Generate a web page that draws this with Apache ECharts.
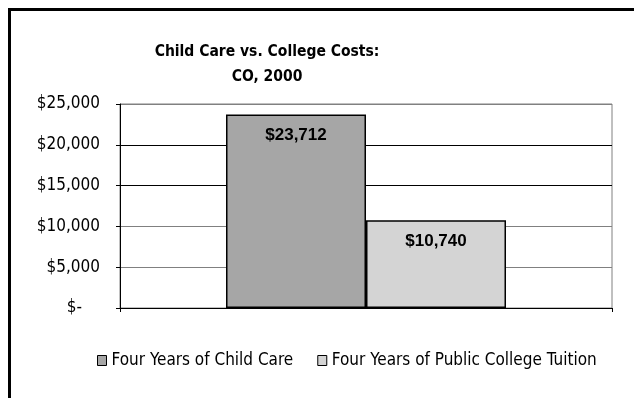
<!DOCTYPE html>
<html>
<head>
<meta charset="utf-8">
<script src="https://cdn.jsdelivr.net/npm/echarts@6/dist/echarts.min.js"></script>
<style>
  html, body { margin: 0; padding: 0; background: #fff; }
  #chart { width: 634px; height: 398px; }
</style>
</head>
<body>
<div id="chart"></div>
<script>
// Costs in Colorado, 2000 (dollars)
const categories = ['CO'];
const seriesNames = ['Four Years of Child Care', 'Four Years of Public College Tuition'];
const childCare = [23712];
const collegeTuition = [10740];
const yTicks = [0, 5000, 10000, 15000, 20000, 25000];

const barColors = ['#A6A6A6', '#D4D4D4'];
const FONT = '"DejaVu Sans Condensed", "DejaVu Sans", sans-serif';

function money(v) {
  return '$' + v.toLocaleString('en-US');
}

const chart = echarts.init(document.getElementById('chart'));

chart.setOption({
  animation: false,
  backgroundColor: '#fff',
  title: {
    text: 'Child Care vs. College Costs:\nCO, 2000',
    left: 262,
    top: 34,
    textAlign: 'center',
    textStyle: {
      fontFamily: FONT,
      fontWeight: 'bold',
      fontSize: 15.5,
      lineHeight: 25,
      color: '#000'
    }
  },
  legend: {
    left: 92,
    top: 347,
    itemWidth: 9,
    itemHeight: 10,
    itemGap: 24,
    icon: 'rect',
    itemStyle: { borderColor: '#000', borderWidth: 1 },
    textStyle: { fontFamily: FONT, fontSize: 17, color: '#000' },
    data: seriesNames
  },
  grid: {
    left: 120,
    top: 104,
    width: 492,
    height: 204,
    show: true,
    borderColor: '#808080',
    borderWidth: 1
  },
  xAxis: {
    type: 'category',
    data: categories,
    axisLine: { lineStyle: { color: '#000', width: 1 } },
    axisTick: { show: true, length: 4, lineStyle: { color: '#000' } },
    axisLabel: { show: false },
    splitLine: { show: false }
  },
  yAxis: {
    type: 'value',
    min: yTicks[0],
    max: yTicks[yTicks.length - 1],
    interval: yTicks[1] - yTicks[0],
    axisLine: { show: true, lineStyle: { color: '#000', width: 1 } },
    axisTick: { show: true, length: 4, lineStyle: { color: '#000' } },
    axisLabel: {
      margin: 20,
      fontFamily: FONT,
      fontSize: 17,
      color: '#000',
      formatter: function (v) {
        return v === 0 ? '{z|$-}' : money(v);
      },
      rich: {
        z: { fontFamily: FONT, fontSize: 17, color: '#000', padding: [0, 18, 0, 0] }
      }
    },
    splitLine: {
      show: true,
      lineStyle: {
        color: ['#808080', '#808080', '#808080', '#000', '#000', '#808080'],
        width: 1
      }
    }
  },
  series: [
    {
      name: seriesNames[0],
      type: 'bar',
      data: childCare,
      barWidth: 140,
      barGap: '0%',
      itemStyle: { color: barColors[0], borderColor: '#000', borderWidth: 1.5 },
      label: {
        show: true,
        position: 'insideTop',
        distance: 12,
        fontFamily: 'Liberation Sans',
        fontWeight: 'bold',
        fontSize: 17,
        color: '#000',
        formatter: function (p) { return money(p.value); }
      }
    },
    {
      name: seriesNames[1],
      type: 'bar',
      data: collegeTuition,
      barWidth: 140,
      barGap: '0%',
      itemStyle: { color: barColors[1], borderColor: '#000', borderWidth: 1.5 },
      label: {
        show: true,
        position: 'insideTop',
        distance: 12,
        fontFamily: 'Liberation Sans',
        fontWeight: 'bold',
        fontSize: 17,
        color: '#000',
        formatter: function (p) { return money(p.value); }
      }
    }
  ],
  graphic: [
    {
      type: 'rect',
      silent: true,
      shape: { x: 9.5, y: 9.5, width: 700, height: 500 },
      style: { fill: 'none', stroke: '#000', lineWidth: 3 }
    }
  ]
});
</script>
</body>
</html>
